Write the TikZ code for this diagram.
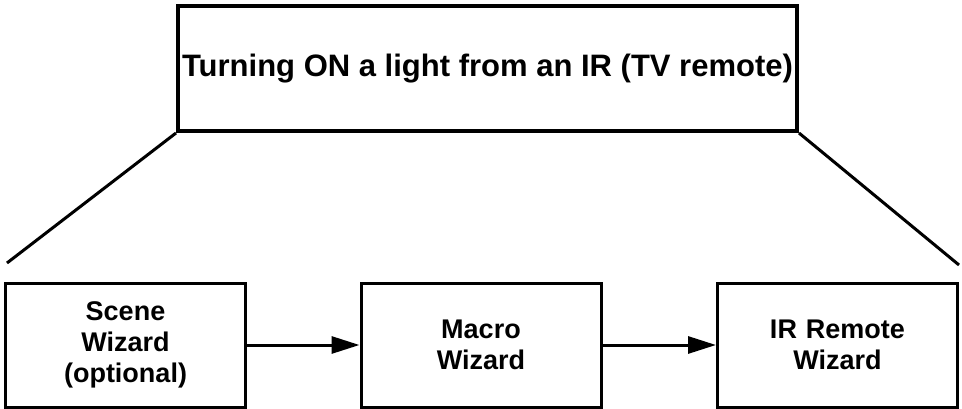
\documentclass[tikz,border=0pt]{standalone}
\usepackage{fontspec}
\setmainfont{Liberation Sans}
\usetikzlibrary{arrows.meta}
\begin{document}
\begin{tikzpicture}[x=1pt,y=-1pt,
  titlebox/.style={draw, line width=4pt, minimum width=619pt, minimum height=125pt, inner sep=0pt,
    font=\fontsize{31}{36}\selectfont\bfseries},
  wizbox/.style={draw, line width=3pt, minimum width=240pt, minimum height=124pt, inner sep=0pt,
    text width=220pt, align=center, font=\fontsize{27}{31}\selectfont\bfseries},
  flow/.style={line width=3pt, -{Triangle[length=28pt,width=17pt]}},
  fan/.style={line width=3pt}]
\useasboundingbox (0,0) rectangle (962,409);
\node[titlebox] (title) at (487.5,68.5) {Turning ON a light from an IR (TV remote)};
\node[wizbox] (scene) at (125.5,345) {Scene\\Wizard\\(optional)};
\node[wizbox] (macro) at (481,345) {Macro\\Wizard};
\node[wizbox] (ir) at (837.5,345) {IR Remote\\Wizard};
\coordinate (fl) at (7,263);
\coordinate (fr) at (959,265);
\draw[fan] (title.south west) -- (fl);
\draw[fan] (title.south east) -- (fr);
\draw[flow] (scene.east) -- (macro.west);
\draw[flow] (macro.east) -- (ir.west);
\end{tikzpicture}
\end{document}
